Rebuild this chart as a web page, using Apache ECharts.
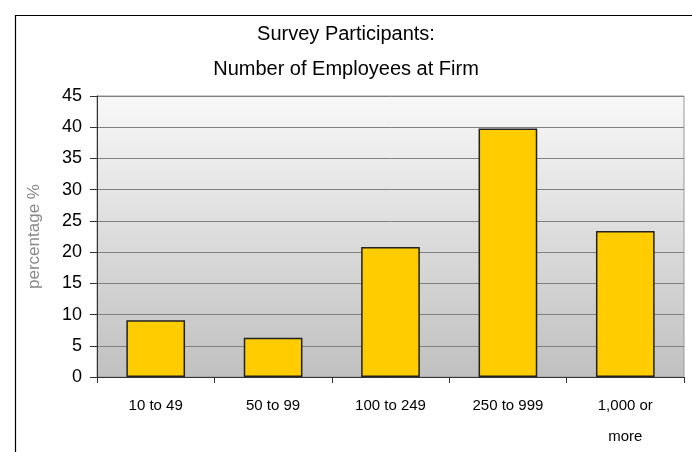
<!DOCTYPE html>
<html>
<head>
<meta charset="utf-8">
<script src="https://cdn.jsdelivr.net/npm/echarts@6/dist/echarts.min.js"></script>
<style>
html,body{margin:0;padding:0;background:#fff;}
#c{width:692px;height:452px;}
</style>
</head>
<body>
<div id="c"></div>
<script>
var titleLines = ['Survey Participants:', 'Number of Employees at Firm'];
var categories = ['10 to 49', '50 to 99', '100 to 249', '250 to 999', '1,000 or\nmore'];
var values = [9.1, 6.3, 20.8, 39.8, 23.4];
var yTicks = {min: 0, max: 45, interval: 5};
var yName = 'percentage %';

var chart = echarts.init(document.getElementById('c'), null, {renderer: 'canvas'});
var font = '"Liberation Sans", Arial, sans-serif';
chart.setOption({
  animation: false,
  backgroundColor: '#fff',
  graphic: [{
    type: 'rect', left: 13, top: 13, z: -10,
    shape: {width: 700, height: 460},
    style: {fill: 'none', stroke: '#000', lineWidth: 1.2}
  }],
  title: {
    text: titleLines.join('\n'),
    left: 'center', top: 12,
    textStyle: {fontFamily: font, fontSize: 20, fontWeight: 'normal', color: '#000', lineHeight: 35}
  },
  grid: {
    left: 97, right: 8, top: 96, bottom: 72,
    show: true,
    borderColor: '#999', borderWidth: 1,
    backgroundColor: {type: 'linear', x: 0, y: 0, x2: 0, y2: 1,
      colorStops: [{offset: 0, color: '#f8f8f8'}, {offset: 1, color: '#c0c0c0'}]}
  },
  xAxis: {
    type: 'category', data: categories,
    axisLine: {lineStyle: {color: '#333', width: 1}},
    axisTick: {show: true, length: 6, lineStyle: {color: '#333'}},
    axisLabel: {fontFamily: font, fontSize: 15, color: '#000', margin: 13, lineHeight: 31, interval: 0}
  },
  yAxis: {
    type: 'value', min: yTicks.min, max: yTicks.max, interval: yTicks.interval,
    name: yName, nameLocation: 'middle', nameGap: 54, nameRotate: 90,
    nameTextStyle: {fontFamily: font, fontSize: 17, color: '#888'},
    axisLine: {show: true, lineStyle: {color: '#333', width: 1}},
    axisTick: {show: true, length: 7, lineStyle: {color: '#333'}},
    axisLabel: {fontFamily: font, fontSize: 18, color: '#000', margin: 15},
    splitLine: {show: true, lineStyle: {color: '#808080', width: 1}}
  },
  series: [{
    type: 'bar', data: values, barCategoryGap: '50%',
    itemStyle: {color: '#FFCC00', borderColor: '#222', borderWidth: 1.5}
  }]
});
</script>
</body>
</html>
